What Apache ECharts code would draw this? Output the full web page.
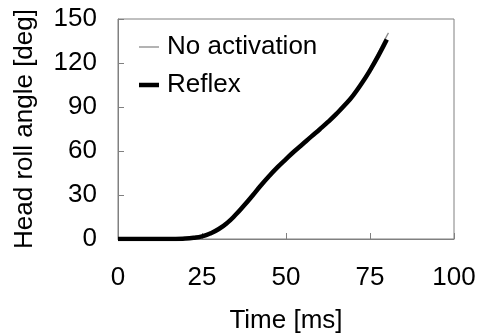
<!DOCTYPE html>
<html>
<head>
<meta charset="utf-8">
<script src="https://cdn.jsdelivr.net/npm/echarts@6/dist/echarts.min.js"></script>
<style>
  html, body { margin: 0; padding: 0; background: #fff; }
  #main { width: 482px; height: 333px; }
</style>
</head>
<body>
<div id="main"></div>
<script>
// time [ms]
const timeReflex = [0, 5, 10, 15, 20, 22.5, 25, 27.5, 30, 32.5, 35, 37.5, 40, 42.5, 45, 47.5, 50, 52.5, 55, 57.5, 60, 62.5, 65, 67.5, 70, 72.5, 75, 77.5, 80];
const angleReflex = [0, 0, 0, 0, 0.3, 0.8, 1.8, 3.8, 6.8, 11, 16.5, 22.8, 29.5, 36.5, 43, 49, 54.5, 59.8, 64.8, 69.8, 74.7, 79.8, 85.3, 91.3, 98, 106, 115, 125, 136];
const timeNoAct = [0, 5, 10, 15, 20, 22.5, 25, 27.5, 30, 32.5, 35, 37.5, 40, 42.5, 45, 47.5, 50, 52.5, 55, 57.5, 60, 62.5, 65, 67.5, 70, 72.5, 75, 77.5, 80, 80.5];
const angleNoAct = [0, 0, 0, 0, 0.3, 0.8, 1.8, 3.8, 6.8, 11, 16.5, 22.8, 29.5, 36.5, 43, 49, 54.5, 59.8, 64.8, 69.8, 74.7, 79.8, 85.3, 91.5, 98.5, 107, 116.5, 127.5, 138.5, 140.5];

const seriesNames = ["No activation", "Reflex"];
const xTicks = [0, 25, 50, 75, 100];
const yTicks = [0, 30, 60, 90, 120, 150];

const font = "'Liberation Sans', Arial, sans-serif";
const axisGray = "#808080";

const zip = (xs, ys) => xs.map((x, i) => [x, ys[i]]);

const chart = echarts.init(document.getElementById("main"), null, { renderer: "canvas" });
chart.setOption({
  animation: false,
  textStyle: { fontFamily: font, color: "#000" },
  grid: {
    left: 118, right: 28, top: 19, bottom: 94,
    show: true, borderColor: axisGray, borderWidth: 1,
    outerBoundsMode: "none",
  },
  legend: {
    orient: "vertical",
    left: 134, top: 29,
    itemWidth: 20, itemHeight: 26, itemGap: 12,
    textStyle: { fontSize: 26, color: "#000", fontFamily: font, lineHeight: 26, padding: [0, 0, 0, 3] },
    data: [
      { name: seriesNames[0], icon: "path://M0,0L20,0L20,1.3L0,1.3Z" },
      { name: seriesNames[1], icon: "path://M0,0L20,0L20,4.5L0,4.5Z" },
    ],
  },
  xAxis: {
    type: "value",
    min: xTicks[0], max: xTicks[xTicks.length - 1], interval: 25,
    name: "Time [ms]", nameLocation: "middle", nameGap: 69,
    nameTextStyle: { fontSize: 26, color: "#000" },
    axisLine: { lineStyle: { color: axisGray } },
    axisTick: { inside: true, length: 6, lineStyle: { color: axisGray } },
    axisLabel: { fontSize: 26, color: "#000", margin: 26 },
    splitLine: { show: false },
  },
  yAxis: {
    type: "value",
    min: yTicks[0], max: yTicks[yTicks.length - 1], interval: 30,
    name: "Head roll angle [deg]", nameLocation: "middle", nameGap: 80,
    nameTextStyle: { fontSize: 26, color: "#000" },
    axisLine: { lineStyle: { color: axisGray } },
    axisTick: { inside: true, length: 6, lineStyle: { color: axisGray } },
    axisLabel: { fontSize: 26, color: "#000", margin: 21 },
    splitLine: { show: false },
  },
  series: [
    {
      name: seriesNames[0],
      type: "line",
      symbol: "none",
      symbolKeepAspect: true,
      smooth: true,
      lineStyle: { color: "#8a8a8a", width: 1.3 },
      itemStyle: { color: "#8a8a8a" },
      data: zip(timeNoAct, angleNoAct),
      z: 2,
    },
    {
      name: seriesNames[1],
      type: "line",
      symbol: "none",
      symbolKeepAspect: true,
      smooth: true,
      lineStyle: { color: "#000", width: 4.5 },
      itemStyle: { color: "#000" },
      data: zip(timeReflex, angleReflex),
      z: 3,
    },
  ],
});

window.onresize = chart.resize;
</script>
</body>
</html>
